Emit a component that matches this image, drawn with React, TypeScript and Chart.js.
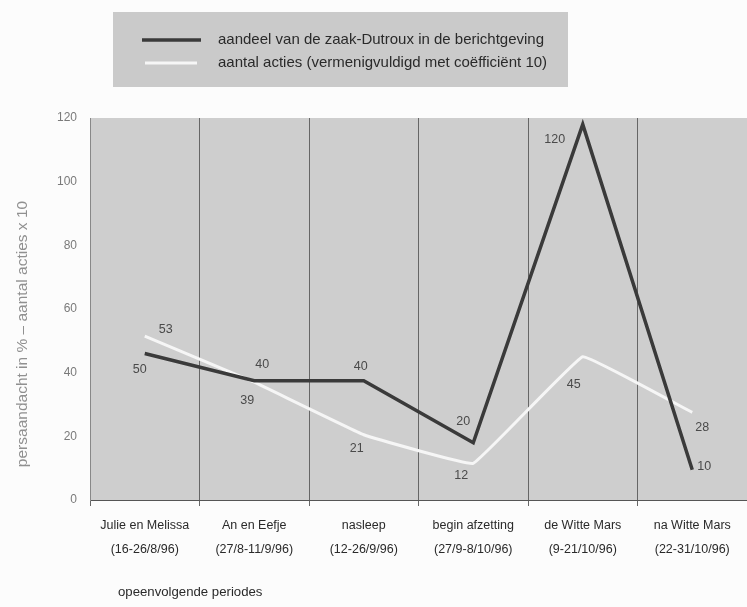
import React, { useEffect, useRef } from "react";
import { Chart, registerables } from "chart.js";
Chart.register(...registerables);

const categories = [
  ["Julie en Melissa", "(16-26/8/96)"],
  ["An en Eefje", "(27/8-11/9/96)"],
  ["nasleep", "(12-26/9/96)"],
  ["begin afzetting", "(27/9-8/10/96)"],
  ["de Witte Mars", "(9-21/10/96)"],
  ["na Witte Mars", "(22-31/10/96)"],
];
const seriesNames = [
  "aandeel van de zaak-Dutroux in de berichtgeving",
  "aantal acties (vermenigvuldigd met coëfficiënt 10)",
];
const mediaShare = [46, 37.5, 37.5, 18, 118, 9.5];
const actions = [51.5, 37, 20.5, 11.5, 45, 27.5];
const mediaShareLabels = ["50", "40", "40", "20", "120", "10"];
const actionsLabels = ["53", "39", "21", "12", "45", "28"];
const yTicks = [0, 20, 40, 60, 80, 100, 120];
const yTitle = "persaandacht in % – aantal acties x 10";
const xTitle = "opeenvolgende periodes";

const FONT = "'Liberation Sans', Arial, sans-serif";

const labelOffsets = [
  [[-5, 16], [8, -16], [-3, -14], [-10, -21], [-28, 15], [12, -3]],
  [[21, -7], [-7, 18], [-7, 14], [-12, 12], [-9, 28], [10, 15]],
];

const bgPlugin = {
  id: "bgPlugin",
  beforeDraw(chart: any) {
    const { ctx, chartArea } = chart;
    ctx.save();
    ctx.fillStyle = "#fcfcfc";
    ctx.fillRect(0, 0, chart.width, chart.height);
    ctx.fillStyle = "#cecece";
    ctx.fillRect(chartArea.left, chartArea.top, chartArea.right - chartArea.left, chartArea.bottom - chartArea.top);
    ctx.restore();
  },
};

const legendBoxPlugin = {
  id: "legendBox",
  afterDraw(chart: any) {
    const { ctx } = chart;
    ctx.save();
    ctx.fillStyle = "#cacaca";
    ctx.fillRect(113, 12, 455, 75);
    const ds = chart.data.datasets;
    const rows = [40, 63];
    ds.forEach((d: any, i: number) => {
      ctx.strokeStyle = d.borderColor;
      ctx.lineWidth = d.borderWidth;
      ctx.beginPath();
      ctx.moveTo(i === 0 ? 142 : 145, rows[i]);
      ctx.lineTo(i === 0 ? 201 : 197, rows[i]);
      ctx.stroke();
      ctx.fillStyle = "#2a2a2a";
      ctx.font = `15px ${FONT}`;
      ctx.textBaseline = "middle";
      ctx.textAlign = "left";
      ctx.fillText(d.label, 218, rows[i]);
    });
    ctx.restore();
  },
};

const pointLabelPlugin = {
  id: "pointLabels",
  afterDatasetsDraw(chart: any) {
    const { ctx } = chart;
    const texts = [mediaShareLabels, actionsLabels];
    ctx.save();
    ctx.font = `12.5px ${FONT}`;
    ctx.fillStyle = "#4a4a4a";
    ctx.textAlign = "center";
    ctx.textBaseline = "middle";
    chart.data.datasets.forEach((_: any, di: number) => {
      const meta = chart.getDatasetMeta(di);
      meta.data.forEach((pt: any, i: number) => {
        const off = labelOffsets[di][i];
        ctx.fillText(texts[di][i], pt.x + off[0], pt.y + off[1]);
      });
    });
    ctx.restore();
  },
};

const titlesPlugin = {
  id: "axisTitles",
  afterDraw(chart: any) {
    const { ctx, chartArea } = chart;
    ctx.save();
    ctx.font = `15.5px ${FONT}`;
    ctx.fillStyle = "#909090";
    ctx.textAlign = "center";
    ctx.textBaseline = "middle";
    ctx.translate(23, chartArea.top + 216);
    ctx.rotate(-Math.PI / 2);
    ctx.fillText(yTitle, 0, 0);
    ctx.restore();
    ctx.save();
    ctx.font = `13.2px ${FONT}`;
    ctx.fillStyle = "#2a2a2a";
    ctx.textAlign = "left";
    ctx.textBaseline = "middle";
    ctx.fillText(xTitle, chartArea.left + 28, 592);
    ctx.restore();
  },
};

export default function App() {
  const ref = useRef<HTMLCanvasElement | null>(null);
  useEffect(() => {
    if (!ref.current) return;
    const chart = new Chart(ref.current, {
      type: "line",
      data: {
        labels: categories,
        datasets: [
          {
            label: seriesNames[0],
            data: mediaShare,
            borderColor: "#3a3a3a",
            borderWidth: 3.5,
            pointRadius: 0,
            tension: 0,
          },
          {
            label: seriesNames[1],
            data: actions,
            borderColor: "#f6f6f6",
            borderWidth: 3,
            pointRadius: 0,
            tension: 0.06,
          },
        ],
      },
      options: {
        animation: false,
        responsive: false,
        layout: { padding: { top: 118, left: 0, right: 0, bottom: 0 } },
        plugins: {
          legend: { display: false },
          tooltip: { enabled: false },
        },
        scales: {
          x: {
            type: "category",
            offset: true,
            grid: {
              offset: true,
              display: true,
              color: "#666",
              lineWidth: 1,
              tickLength: 6,
              drawOnChartArea: true,
            },
            border: { display: true, color: "#555", width: 1 },
            ticks: {
              color: "#2a2a2a",
              font: { family: FONT, size: 12.5, lineHeight: 1.9 },
              padding: 8,
              maxRotation: 0,
              autoSkip: false,
            },
            afterFit(scale: any) {
              scale.height = 107;
            },
          },
          y: {
            min: 0,
            max: 120,
            grid: { display: false, drawTicks: false },
            border: { display: true, color: "#888", width: 1 },
            ticks: {
              color: "#7a7a7a",
              font: { family: FONT, size: 12 },
              padding: 13,
            },
            afterBuildTicks(scale: any) {
              scale.ticks = yTicks.map((v) => ({ value: v }));
            },
            afterFit(scale: any) {
              scale.width = 90;
            },
          },
        },
      },
      plugins: [bgPlugin, pointLabelPlugin, legendBoxPlugin, titlesPlugin],
    });
    return () => chart.destroy();
  }, []);
  return (
    <div style={{ position: "fixed", left: 0, top: 0, width: 747, height: 607 }}>
      <canvas ref={ref} width={747} height={607} style={{ width: 747, height: 607 }} />
    </div>
  );
}
